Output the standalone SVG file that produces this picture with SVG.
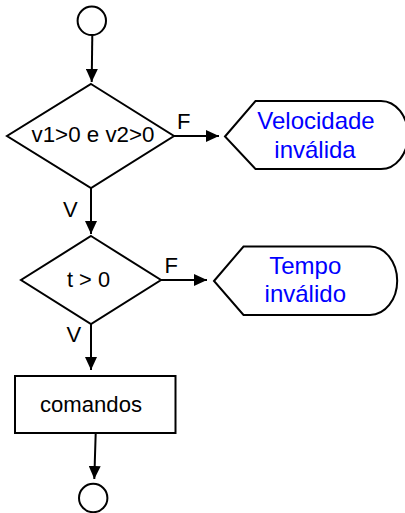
<svg xmlns="http://www.w3.org/2000/svg" width="405" height="513" viewBox="0 0 405 513">
<defs>
<style>
.s{fill:#fff;stroke:#000;stroke-width:2}
.c{fill:none;stroke:#000;stroke-width:2}
.t{font-family:"Liberation Sans",Arial,sans-serif;font-size:22px;fill:#000;text-anchor:middle}
.b{font-family:"Liberation Sans",Arial,sans-serif;font-size:24px;fill:#0000ff;text-anchor:middle}
.l{font-family:"Liberation Sans",Arial,sans-serif;font-size:22px;fill:#000}
</style>
<marker id="ah" markerWidth="13" markerHeight="12" refX="13" refY="6" orient="auto" markerUnits="userSpaceOnUse">
<path d="M0,0 L13,6 L0,12 Z" fill="#000"/>
</marker>
</defs>
<rect width="405" height="513" fill="#fff"/>
<g id="connectors">
<path class="c" d="M92.3,35 L91.7,82" marker-end="url(#ah)"/>
<path class="c" d="M174,136 L219,136" marker-end="url(#ah)"/>
<path class="c" d="M91,188 L91,234" marker-end="url(#ah)"/>
<path class="c" d="M161,280 L207,280" marker-end="url(#ah)"/>
<path class="c" d="M91,324 L91,370" marker-end="url(#ah)"/>
<path class="c" d="M95.7,433 L94.3,479" marker-end="url(#ah)"/>
<text class="l" x="177" y="129">F</text>
<text class="l" x="164.5" y="272.5">F</text>
<text class="l" x="63" y="216.5">V</text>
<text class="l" x="66.5" y="341.5">V</text>
</g>
<g id="start">
<circle class="s" cx="91.8" cy="20.8" r="14.2"/>
</g>
<g id="cond1">
<path class="s" d="M91,84 L174,136 L91,188 L7,136 Z"/>
<text class="t" x="93" y="142" textLength="123" lengthAdjust="spacingAndGlyphs">v1&gt;0 e v2&gt;0</text>
</g>
<g id="err1">
<path class="s" d="M225,136.5 L255.5,101 L381,101 A27,34 0 0 1 381,169 L255.5,169 Z"/>
<text class="b" x="316" y="129">Velocidade</text>
<text class="b" x="315" y="157.5">inválida</text>
</g>
<g id="cond2">
<path class="s" d="M91,236 L161,280 L91,324 L21,280 Z"/>
<text class="t" x="88.5" y="287" textLength="43" lengthAdjust="spacingAndGlyphs">t &gt; 0</text>
</g>
<g id="err2">
<path class="s" d="M214,281 L243.5,246.5 L370,246.5 A27,34 0 0 1 370,315 L243.5,315 Z"/>
<text class="b" x="305.3" y="274">Tempo</text>
<text class="b" x="305.3" y="302.3">inválido</text>
</g>
<g id="cmds">
<rect class="s" x="15" y="376" width="160.5" height="57"/>
<text class="t" x="91" y="412" textLength="102" lengthAdjust="spacingAndGlyphs">comandos</text>
</g>
<g id="end">
<circle class="s" cx="93.2" cy="498" r="14.2"/>
</g>
</svg>
